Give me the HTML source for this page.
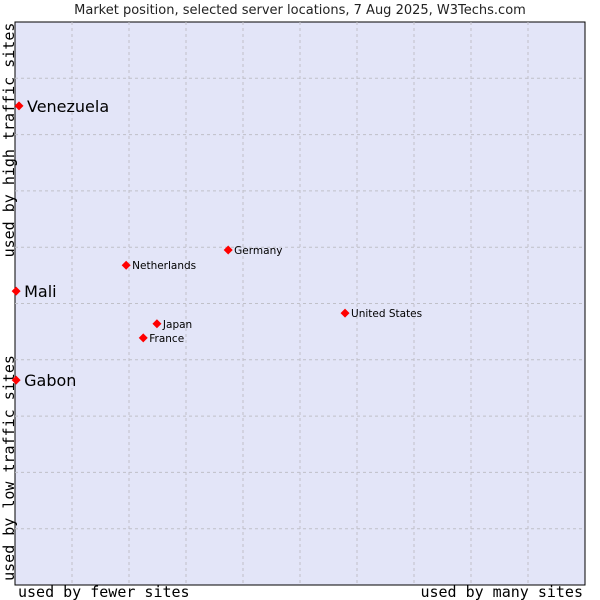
<!DOCTYPE html>
<html><head><meta charset="utf-8"><style>
body{margin:0;background:#fff;width:600px;height:600px;overflow:hidden}
svg{display:block}
</style></head><body>
<svg id="chart" width="600" height="600" xmlns="http://www.w3.org/2000/svg">
<text x="300" y="14" text-anchor="middle" font-family="DejaVu Sans, sans-serif" font-size="13" fill="#222">Market position, selected server locations, 7 Aug 2025, W3Techs.com</text>
<rect x="15" y="22" width="570" height="563" fill="#e3e5f8" stroke="#000" stroke-width="1"/>
<g id="grid"></g>
<text transform="translate(14,140) rotate(-90)" text-anchor="middle" font-family="DejaVu Sans Mono, monospace" font-size="15" fill="#000">used by high traffic sites</text>
<text transform="translate(14,468) rotate(-90)" text-anchor="middle" font-family="DejaVu Sans Mono, monospace" font-size="15" fill="#000">used by low traffic sites</text>
<text x="18" y="597" font-family="DejaVu Sans Mono, monospace" font-size="15" fill="#000">used by fewer sites</text>
<text x="583" y="597" text-anchor="end" font-family="DejaVu Sans Mono, monospace" font-size="15" fill="#000">used by many sites</text>
<g id="points"></g>
</svg>
<script>
const names=["Venezuela","Mali","Gabon","Germany","Netherlands","Japan","France","United States"];
const xVals=[0.7,0.2,0.2,37.4,19.5,24.9,22.5,57.9];
const yVals=[85.1,52.2,36.4,59.5,56.8,46.4,43.9,48.3];
const bigLabel=[true,true,true,false,false,false,false,false];
const L=15,T=22,W=570,H=563;
const sx=v=>L+v/100*W, sy=v=>T+H-v/100*H;
const NS="http://www.w3.org/2000/svg";
const g=document.getElementById('grid');
for(let i=1;i<10;i++){
  const vx=document.createElementNS(NS,'line');
  
  
  vx.setAttribute('x1',sx(i*10));vx.setAttribute('x2',sx(i*10));vx.setAttribute('y1',T);vx.setAttribute('y2',T+H);
  vx.setAttribute('stroke','#c0c0c8');vx.setAttribute('stroke-dasharray','3,3');g.appendChild(vx);
  const hy=document.createElementNS(NS,'line');
  
  
  hy.setAttribute('y1',sy(i*10));hy.setAttribute('y2',sy(i*10));hy.setAttribute('x1',L);hy.setAttribute('x2',L+W);
  hy.setAttribute('stroke','#c0c0c8');hy.setAttribute('stroke-dasharray','3,3');g.appendChild(hy);
}
const p=document.getElementById('points');
names.forEach((n,i)=>{
  const x=sx(xVals[i]),y=sy(yVals[i]);
  const d=document.createElementNS(NS,'polygon');
  
  
  d.setAttribute('points',`${x},${y-4.5} ${x+4.5},${y} ${x},${y+4.5} ${x-4.5},${y}`);
  d.setAttribute('fill','#f00');p.appendChild(d);
  const t=document.createElementNS(NS,'text');
  
  
  t.setAttribute('x',x+(bigLabel[i]?8:6));t.setAttribute('y',y+(bigLabel[i]?6:4));
  t.setAttribute('font-family','DejaVu Sans, sans-serif');
  t.setAttribute('font-size',bigLabel[i]?'16':'10.5');
  t.setAttribute('fill','#000');t.textContent=n;p.appendChild(t);
});
</script>
</body></html>
